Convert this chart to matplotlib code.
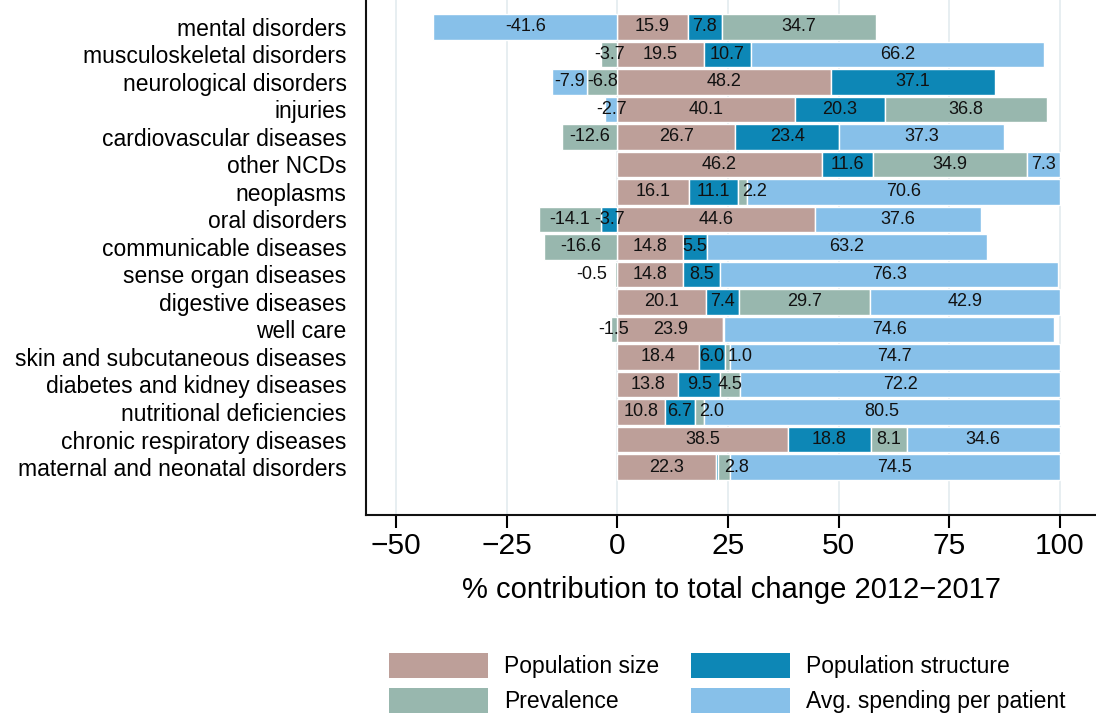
import matplotlib
matplotlib.use("Agg")
import matplotlib.pyplot as plt
import numpy as np
from matplotlib.patches import Patch

plt.rcParams['font.family'] = ['Liberation Sans', 'DejaVu Sans']

# categories, top to bottom
causes = ["mental disorders", "musculoskeletal disorders", "neurological disorders",
          "injuries", "cardiovascular diseases", "other NCDs", "neoplasms",
          "oral disorders", "communicable diseases", "sense organ diseases",
          "digestive diseases", "well care", "skin and subcutaneous diseases",
          "diabetes and kidney diseases", "nutritional deficiencies",
          "chronic respiratory diseases", "maternal and neonatal disorders"]

pop_size = [15.9, 19.5, 48.2, 40.1, 26.7, 46.2, 16.1, 44.6, 14.8, 14.8,
            20.1, 23.9, 18.4, 13.8, 10.8, 38.5, 22.3]
pop_structure = [7.8, 10.7, 37.1, 20.3, 23.4, 11.6, 11.1, -3.7, 5.5, 8.5,
                 7.4, 0.3, 6.0, 9.5, 6.7, 18.8, 0.4]
prevalence = [34.7, -3.7, -6.8, 36.8, -12.6, 34.9, 2.2, -14.1, -16.6, -0.5,
              29.7, -1.5, 1.0, 4.5, 2.0, 8.1, 2.8]
avg_spending = [-41.6, 66.2, -7.9, -2.7, 37.3, 7.3, 70.6, 37.6, 63.2, 76.3,
                42.9, 74.6, 74.7, 72.2, 80.5, 34.6, 74.5]

series = [("Population size", pop_size, "#bd9f99"),
          ("Population structure", pop_structure, "#0d87b6"),
          ("Prevalence", prevalence, "#98b7ae"),
          ("Avg. spending per patient", avg_spending, "#87c0e9")]

fig = plt.figure(figsize=(10.96, 7.21), dpi=100)
ax = fig.add_axes([366 / 1096, 1 - 515 / 721, 730 / 1096, 515 / 721])

n = len(causes)
ypos = np.arange(n)[::-1]
pos_left = np.zeros(n)
neg_left = np.zeros(n)

for name, vals, col in series:
    vals = np.array(vals)
    left = np.where(vals >= 0, pos_left, neg_left)
    ax.barh(ypos, vals, left=left, height=0.93, color=col,
            edgecolor="white", linewidth=1.0, zorder=2)
    for y, l, v in zip(ypos, left, vals):
        if abs(v) < 0.5:
            continue
        txt = "%.1f" % v
        mid = l + v / 2
        if 0 < v < 3:
            # narrow segments: label starts at the middle
            ax.text(mid, y, txt, ha="left", va="center",
                    fontsize=13, color="#111111", zorder=3)
        elif -1 < v < 0:
            ax.text(mid - 2.0, y, txt, ha="right", va="center",
                    fontsize=13, color="#111111", zorder=3)
        else:
            ax.text(mid, y, txt, ha="center", va="center",
                    fontsize=13, color="#111111", zorder=3)
    pos_left = pos_left + np.where(vals >= 0, vals, 0)
    neg_left = neg_left + np.where(vals < 0, vals, 0)

ax.set_xlim(-56.8, 108.2)
ax.set_ylim(-1.745, 16.98)
ax.set_xticks([-50, -25, 0, 25, 50, 75, 100])
ax.set_xticklabels(["\u221250", "\u221225", "0", "25", "50", "75", "100"])
ax.set_yticks(ypos)
ax.set_yticklabels(causes)
ax.tick_params(axis="y", length=0, pad=14, labelsize=16.5)
ax.tick_params(axis="x", length=9, width=1.5, direction="out", pad=3,
               labelsize=21.5)
ax.xaxis.grid(True, color="#e3ebef", linewidth=1.2, zorder=0)
ax.set_axisbelow(True)
for s in ["top", "right"]:
    ax.spines[s].set_visible(False)
for s in ["left", "bottom"]:
    ax.spines[s].set_linewidth(1.5)
    ax.spines[s].set_color("#111111")
ax.set_xlabel("% contribution to total change 2012\u22122017", fontsize=21,
              labelpad=12)

handles = [Patch(facecolor=c, edgecolor="none") for _, _, c in series]
labels = [s[0] for s in series]
# order so that row 1 = size / structure, row 2 = prevalence / spending
order = [0, 2, 1, 3]
fig.legend([handles[i] for i in order], [labels[i] for i in order],
           ncol=2, loc="upper left", bbox_to_anchor=(389 / 1096, 1 - 653 / 721),
           frameon=False, fontsize=16.5, handlelength=4.3, handleheight=1.3,
           handletextpad=0.72, columnspacing=1.4, labelspacing=0.42,
           borderpad=0, borderaxespad=0)

fig.savefig("out.png", dpi=100)
